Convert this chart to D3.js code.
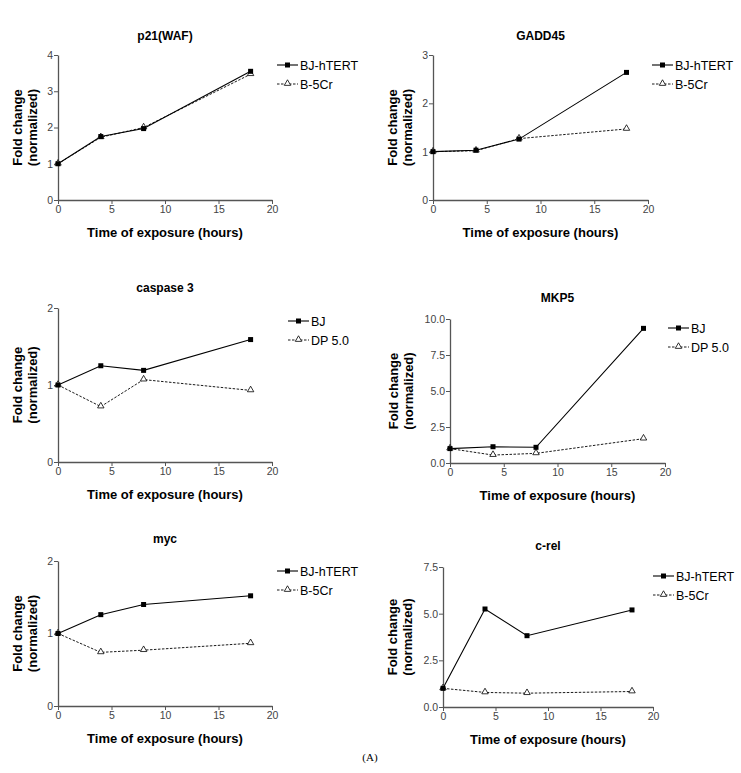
<!DOCTYPE html>
<html>
<head>
<meta charset="utf-8">
<script src="https://cdn.jsdelivr.net/npm/d3@7"></script>
<style>
  html, body { margin: 0; padding: 0; background: #fff; }
  svg { display: block; font-family: "Liberation Sans", Arial, sans-serif; }
</style>
</head>
<body>
<svg id="chart" width="741" height="773"></svg>
<script>
// ---- data ----
const hours = [0, 4, 8, 18];
const xTicks = [0, 5, 10, 15, 20];

const p21_BJ = [1.0, 1.75, 1.97, 3.55];
const p21_B5 = [1.0, 1.73, 2.0, 3.47];
const p21_yTicks = [0, 1, 2, 3, 4];

const gadd_BJ = [1.0, 1.03, 1.26, 2.64];
const gadd_B5 = [1.0, 1.02, 1.27, 1.47];
const gadd_yTicks = [0, 1, 2, 3];

const casp_BJ = [1.0, 1.25, 1.19, 1.59];
const casp_DP = [1.0, 0.72, 1.07, 0.93];
const casp_yTicks = [0, 1, 2];

const mkp_BJ = [1.0, 1.13, 1.09, 9.35];
const mkp_DP = [1.0, 0.55, 0.67, 1.69];
const mkp_yTicks = [0, 2.5, 5.0, 7.5, 10.0];

const myc_BJ = [1.0, 1.26, 1.40, 1.52];
const myc_B5 = [1.0, 0.74, 0.77, 0.865];
const myc_yTicks = [0, 1, 2];

const crel_BJ = [1.0, 5.25, 3.82, 5.2];
const crel_B5 = [1.0, 0.78, 0.74, 0.83];
const crel_yTicks = [0, 2.5, 5.0, 7.5];

const legendA = ["BJ-hTERT", "B-5Cr"];
const legendB = ["BJ", "DP 5.0"];

// ---- layout (positions only) ----
const panels = [
  { title: "p21(WAF)", s1: p21_BJ, s2: p21_B5, yTicks: p21_yTicks, yMax: 4, fmt: d3.format("d"), names: legendA,
    x0: 58, x1: 272, yTop: 55, yBot: 200, titleY: 36, legX: 277, legY: 65, ytX: 22 },
  { title: "GADD45", s1: gadd_BJ, s2: gadd_B5, yTicks: gadd_yTicks, yMax: 3, fmt: d3.format("d"), names: legendA,
    x0: 433, x1: 648, yTop: 55, yBot: 200, titleY: 36, legX: 652, legY: 65, ytX: 397 },
  { title: "caspase 3", s1: casp_BJ, s2: casp_DP, yTicks: casp_yTicks, yMax: 2, fmt: d3.format("d"), names: legendB,
    x0: 58, x1: 272, yTop: 308, yBot: 462, titleY: 288, legX: 288, legY: 321, ytX: 22 },
  { title: "MKP5", s1: mkp_BJ, s2: mkp_DP, yTicks: mkp_yTicks, yMax: 10, fmt: d3.format(".1f"), names: legendB,
    x0: 450, x1: 665, yTop: 319, yBot: 463, titleY: 298, legX: 668, legY: 328, ytX: 398 },
  { title: "myc", s1: myc_BJ, s2: myc_B5, yTicks: myc_yTicks, yMax: 2, fmt: d3.format("d"), names: legendA,
    x0: 58, x1: 272, yTop: 561, yBot: 706, titleY: 539, legX: 277, legY: 571, ytX: 22 },
  { title: "c-rel", s1: crel_BJ, s2: crel_B5, yTicks: crel_yTicks, yMax: 7.5, fmt: d3.format(".1f"), names: legendA,
    x0: 443, x1: 653, yTop: 567, yBot: 707, titleY: 546, legX: 653, legY: 576, ytX: 397 }
];

const svg = d3.select("#chart");
const axisColor = "#555";

function drawMarker(g, type, x, y) {
  if (type === 0) {
    g.append("rect").attr("x", x - 2.5).attr("y", y - 2.5).attr("width", 5).attr("height", 5)
      .attr("fill", "#000");
  } else {
    const tri = d3.symbol().type(d3.symbolTriangle).size(18);
    g.append("path").attr("d", tri()).attr("transform", `translate(${x},${y - 0.5})`)
      .attr("fill", "#fff").attr("stroke", "#000").attr("stroke-width", 0.8);
  }
}

panels.forEach(p => {
  const g = svg.append("g");
  const x = d3.scaleLinear().domain([0, 20]).range([p.x0, p.x1]);
  const y = d3.scaleLinear().domain([0, p.yMax]).range([p.yBot, p.yTop]);

  // axes
  const xa = g.append("g").attr("transform", `translate(0,${p.yBot})`)
    .call(d3.axisBottom(x).tickValues(xTicks).tickSize(4).tickSizeOuter(0).tickFormat(d3.format("d")));
  const ya = g.append("g").attr("transform", `translate(${p.x0},0)`)
    .call(d3.axisLeft(y).tickValues(p.yTicks).tickSize(4).tickSizeOuter(0).tickFormat(p.fmt));
  [xa, ya].forEach(a => {
    a.select(".domain").attr("stroke", axisColor).attr("stroke-width", 1.3);
    a.selectAll(".tick line").attr("stroke", axisColor);
    a.selectAll(".tick text").attr("fill", "#444").style("font-size", "10.5px")
      .style("font-family", "'Liberation Sans', Arial, sans-serif");
  });
  xa.selectAll(".tick text").attr("dy", "0.9em").attr("y", 4);
  ya.selectAll(".tick text").attr("x", -5);

  // title
  g.append("text").attr("x", (p.x0 + p.x1) / 2).attr("y", p.titleY + 4)
    .attr("text-anchor", "middle").style("font-size", "12px").style("font-weight", "bold")
    .text(p.title);

  // x title
  g.append("text").attr("x", (p.x0 + p.x1) / 2).attr("y", p.yBot + 37)
    .attr("text-anchor", "middle").style("font-size", "13px").style("font-weight", "bold")
    .text("Time of exposure (hours)");

  // y title
  const cy = (p.yTop + p.yBot) / 2;
  const yt = g.append("text").attr("transform", `translate(${p.ytX},${cy}) rotate(-90)`)
    .attr("text-anchor", "middle").style("font-size", "13px").style("font-weight", "bold");
  yt.append("tspan").attr("x", 0).attr("dy", "0").text("Fold change");
  yt.append("tspan").attr("x", 0).attr("dy", "1.12em").text("(normalized)");

  // lines
  const line = d3.line().x((d, i) => x(hours[i])).y(d => y(d));
  g.append("path").datum(p.s2).attr("d", line).attr("fill", "none")
    .attr("stroke", "#000").attr("stroke-width", 0.9).attr("stroke-dasharray", "2.5,1.5");
  g.append("path").datum(p.s1).attr("d", line).attr("fill", "none")
    .attr("stroke", "#000").attr("stroke-width", 1.1);
  p.s2.forEach((v, i) => drawMarker(g, 1, x(hours[i]), y(v)));
  p.s1.forEach((v, i) => drawMarker(g, 0, x(hours[i]), y(v)));

  // legend
  [0, 1].forEach(k => {
    const ly = p.legY + k * 19;
    const l = g.append("line").attr("x1", p.legX).attr("x2", p.legX + 21)
      .attr("y1", ly).attr("y2", ly).attr("stroke", "#000")
      .attr("stroke-width", k === 0 ? 1.1 : 0.9);
    if (k === 1) l.attr("stroke-dasharray", "2.5,1.5");
    drawMarker(g, k, p.legX + 10.5, ly);
    g.append("text").attr("x", p.legX + 23).attr("y", ly + 4.5)
      .style("font-size", "12.5px").text(p.names[k]);
  });
});

svg.append("text").attr("x", 370).attr("y", 761).attr("text-anchor", "middle")
  .style("font-family", "'Liberation Serif', 'Times New Roman', serif").style("font-size", "11px")
  .text("(A)");
</script>
</body>
</html>
